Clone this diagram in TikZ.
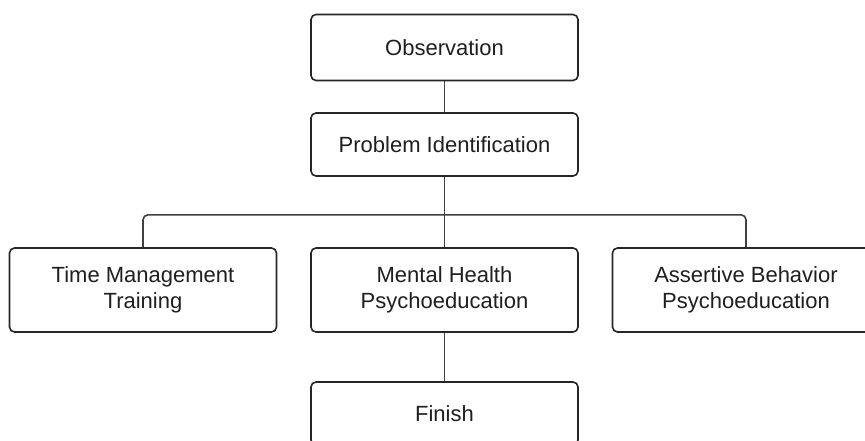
\documentclass[tikz,border=0pt]{standalone}
\usepackage{fontspec}
\setmainfont{Liberation Sans}
\begin{document}
\begin{tikzpicture}[x=1pt,y=1pt,
  box/.style={draw=black!85, line width=1.6pt, rounded corners=5pt, fill=white,
    minimum width=267pt, inner sep=0pt, align=center,
    font=\fontsize{22}{26}\selectfont, text=black!88},
  conn/.style={draw=black!75, line width=1.6pt}]
\useasboundingbox (0,0) rectangle (865,-441);
\begin{scope}
\clip (0,0) rectangle (865,-441);
\fill[white] (0,0) rectangle (865,-441);
\node[box, minimum height=66pt] (obs) at (444.5,-47.5) {Observation};
\node[box, minimum height=63pt] (pi) at (444.5,-144.5) {Problem Identification};
\node[box, minimum height=84pt] (tm) at (143,-290) {Time Management\\Training};
\node[box, minimum height=84pt] (mh) at (444.5,-290) {Mental Health\\Psychoeducation};
\node[box, minimum height=84pt] (ab) at (746,-290) {Assertive Behavior\\Psychoeducation};
\node[box, minimum height=63pt] (fin) at (444.5,-413.5) {Finish};
\draw[conn] (obs.south) -- (pi.north);
\draw[conn] (pi.south) -- ++(0,-38) coordinate (j);
\draw[conn, rounded corners=5pt] (j) -| (tm.north);
\draw[conn, rounded corners=5pt] (j) -| (ab.north);
\draw[conn] (j) -- (mh.north);
\draw[conn] (mh.south) -- (fin.north);
\end{scope}
\end{tikzpicture}
\end{document}
